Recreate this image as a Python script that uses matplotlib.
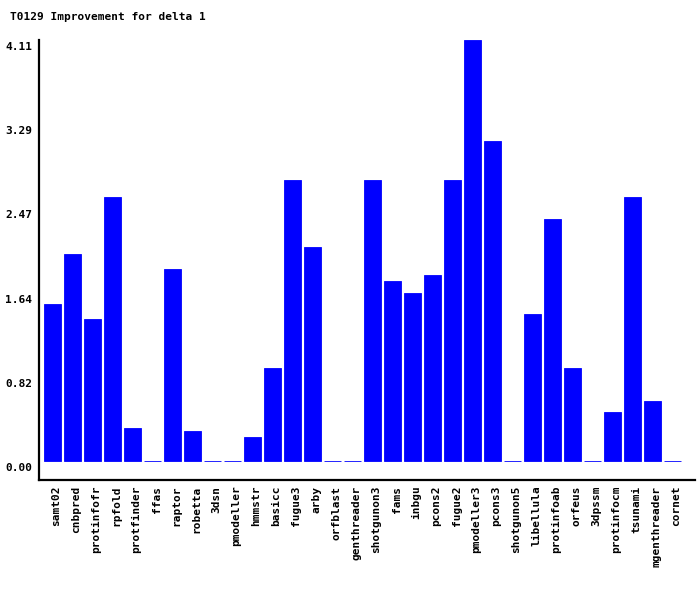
import matplotlib
matplotlib.use("Agg")
import matplotlib.pyplot as plt
import matplotlib.transforms as mtransforms
import numpy as np

# servers and their improvement values
servers = ["samt02", "cnbpred", "protinfofr", "rpfold", "protfinder", "ffas",
           "raptor", "robetta", "3dsn", "pmodeller", "hmmstr", "basicc",
           "fugue3", "arby", "orfblast", "genthreader", "shotgunon3", "fams",
           "inbgu", "pcons2", "fugue2", "pmodeller3", "pcons3", "shotgunon5",
           "libellula", "protinfoab", "orfeus", "3dpssm", "protinfocm",
           "tsunami", "mgenthreader", "cornet"]
improvement = [1.53, 2.02, 1.39, 2.58, 0.32, 0.0,
               1.87, 0.29, 0.0, 0.0, 0.23, 0.91,
               2.74, 2.09, 0.0, 0.0, 2.74, 1.76,
               1.64, 1.82, 2.74, 4.11, 3.12, 0.0,
               1.43, 2.36, 0.91, 0.0, 0.48,
               2.58, 0.59, 0.0]
ytick_vals = [0.00, 0.82, 1.64, 2.47, 3.29, 4.11]
title = "T0129 Improvement for delta 1"

font = {"family": "DejaVu Sans Mono", "weight": "bold", "size": 8}

fig = plt.figure(figsize=(7, 5.9), dpi=100)
ax = fig.add_axes([39/700, 110/590, (695-39)/700, (480-40)/590])

x = np.arange(len(servers))
ax.bar(x, improvement, width=0.85, color="#0000ff", edgecolor="#0000ff", linewidth=0.6)

ax.set_xlim(-0.675, 32.125)
ax.set_ylim(-0.186, 4.11)

for s in ["top", "right"]:
    ax.spines[s].set_visible(False)
for s in ["left", "bottom"]:
    ax.spines[s].set_linewidth(1.6)

ax.set_yticks(ytick_vals)
ax.set_yticklabels([f"{v:.2f}" for v in ytick_vals], fontdict=font)
ax.set_xticks(x + 0.2)
ax.set_xticklabels(servers, rotation=90, fontdict=font, va="top", ha="center")
ax.tick_params(length=0, pad=4)
ax.tick_params(axis="y", pad=5)

# labels sit a few pixels below their values
off = mtransforms.ScaledTranslation(0, -6/100, fig.dpi_scale_trans)
for lab in ax.get_yticklabels():
    lab.set_transform(lab.get_transform() + off)

fig.text(10/700, 1 - 17/590, title, ha="left", va="center", fontdict=font)

fig.savefig("out.png", dpi=100)
